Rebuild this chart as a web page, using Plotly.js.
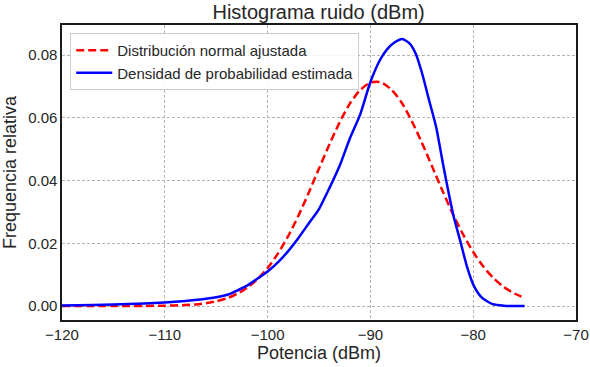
<!DOCTYPE html>
<html>
<head>
<meta charset="utf-8">
<script src="https://cdn.plot.ly/plotly-3.0.1.min.js"></script>
<style>html,body{margin:0;padding:0;background:#fff;}#chart{width:590px;height:367px;}</style>
</head>
<body>
<div id="chart"></div>
<script>
// Fitted normal distribution
const normalX = [-120, -115, -112, -110, -108, -107, -106, -105, -104, -103, -102, -101, -100, -99, -98, -97, -96, -95, -94, -93, -92, -91, -90, -89, -88, -87, -86, -85, -84, -83, -82, -81, -80, -79, -78, -77, -76, -75];
const normalY = [0.0000, 0.0000, 0.00002, 0.0001, 0.0003, 0.0005, 0.0009, 0.0015, 0.0024, 0.0038, 0.0058, 0.0085, 0.0121, 0.0167, 0.0223, 0.0288, 0.0361, 0.0438, 0.0514, 0.0585, 0.0645, 0.0688, 0.0712, 0.0713, 0.0691, 0.0650, 0.0591, 0.0521, 0.0445, 0.0368, 0.0295, 0.0229, 0.0172, 0.0125, 0.0088, 0.0060, 0.0040, 0.0026];

// Estimated probability density
const kdeX = [-120, -117, -115, -112, -110, -108, -106, -104, -102, -101, -100, -99, -98, -97, -96, -95, -94, -93, -92, -91, -90, -89, -88.3, -87.7, -86.9, -86.2, -85.6, -85, -84.3, -83.6, -83, -82.6, -81.9, -81.2, -80.6, -79.9, -79.1, -78.1, -77, -76, -75];
const kdeY = [0.0002, 0.0003, 0.0005, 0.0008, 0.0011, 0.0016, 0.0023, 0.0035, 0.0065, 0.0087, 0.0110, 0.0139, 0.0175, 0.0217, 0.0263, 0.0309, 0.0375, 0.0446, 0.0534, 0.0610, 0.0714, 0.0788, 0.0821, 0.0839, 0.0851, 0.0837, 0.0805, 0.0745, 0.0657, 0.0570, 0.0464, 0.0395, 0.0285, 0.0200, 0.0125, 0.0062, 0.0025, 0.0006, 0.0001, 0.0000, 0.0000];

const xTicks = [-120, -110, -100, -90, -80, -70];
const yTicks = [0.00, 0.02, 0.04, 0.06, 0.08];

const FONT = 'Liberation Sans, Arial, sans-serif';
const TXT = '#262626';

const traces = [
  {x: normalX, y: normalY, type: 'scatter', mode: 'lines', name: 'Distribución normal ajustada',
   line: {color: '#ff0000', width: 2.5, dash: '8px,4px', shape: 'spline', smoothing: 0.8}},
  {x: kdeX, y: kdeY, type: 'scatter', mode: 'lines', name: 'Densidad de probabilidad estimada',
   line: {color: '#0000ff', width: 2.5, shape: 'spline', smoothing: 0.6}}
];

const layout = {
  width: 590, height: 367,
  margin: {l: 62, r: 14, t: 25, b: 47},
  paper_bgcolor: '#fff', plot_bgcolor: '#fff',
  font: {family: FONT, color: TXT, size: 15},
  title: {text: 'Histograma ruido (dBm)', font: {family: FONT, size: 20, color: TXT}, x: 0.54, xanchor: 'center', y: 0.967, yanchor: 'middle'},
  showlegend: true,
  legend: {x: 0.016, y: 0.973, xanchor: 'left', yanchor: 'top', bgcolor: 'rgba(255,255,255,0.85)',
           bordercolor: '#cccccc', borderwidth: 1, font: {family: FONT, size: 15, color: TXT},
           itemwidth: 36, tracegroupgap: 0},
  xaxis: {range: [-120, -70], tickvals: xTicks, ticktext: xTicks.map(v => v < 0 ? '\u2212' + Math.abs(v) : String(v)),
          showgrid: true, gridcolor: '#b4b4b4', griddash: '3px,2px', gridwidth: 1, zeroline: false,
          showline: true, mirror: true, linecolor: '#1a1a1a', linewidth: 1.6, ticks: '',
          tickfont: {family: FONT, size: 15, color: TXT},
          title: {text: 'Potencia (dBm)', font: {family: FONT, size: 18, color: TXT}, standoff: 5}},
  yaxis: {range: [-0.00446, 0.08956], tickvals: yTicks, ticktext: yTicks.map(v => v.toFixed(2)),
          showgrid: true, gridcolor: '#b4b4b4', griddash: '3px,2px', gridwidth: 1, zeroline: false,
          showline: true, mirror: true, linecolor: '#1a1a1a', linewidth: 1.6, ticks: '',
          tickfont: {family: FONT, size: 15, color: TXT},
          title: {text: 'Frequencia relativa', font: {family: FONT, size: 18, color: TXT}, standoff: 7}}
};

Plotly.newPlot('chart', traces, layout, {displayModeBar: false, staticPlot: true});
</script>
</body>
</html>
